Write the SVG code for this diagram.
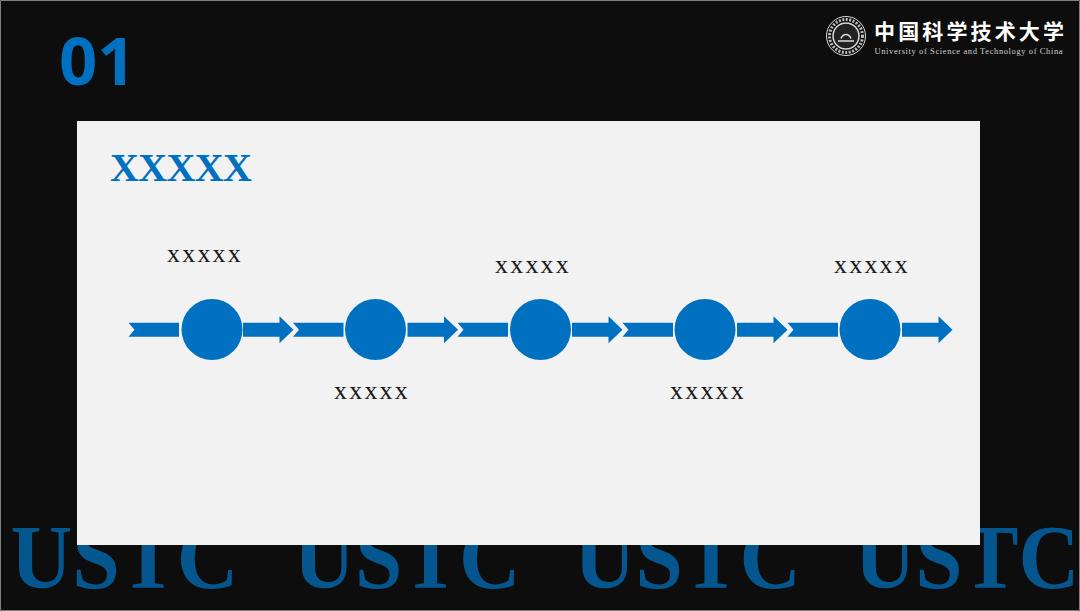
<svg xmlns="http://www.w3.org/2000/svg" width="1080" height="611" viewBox="0 0 1080 611">
<style>
.sf{font-family:"Liberation Serif","Times New Roman",serif}
.lab{font-size:26px;fill:#1a1a1a;text-anchor:middle;letter-spacing:2.2px}
.blue{fill:#0070c0}
.ustc{font-size:92px;font-weight:700;fill:#05568f;font-family:"Liberation Serif",serif}
.arrow{fill:#0070c0}
</style>
<defs>
<path id="tail" d="M0 -7 H50.500 V7 H0 L6 0 Z"/>
<path id="head" d="M0 -7 H36.500 V-13.500 L50.500 0 L36.500 13.500 V7 H0 Z"/>
</defs>
<rect width="1080" height="611" fill="#0d0d0d"/>
<path d="M0.500 0.500H1079.500V610.500H0.500Z" fill="none" stroke="#7f7f7f"/>
<g id="watermark">
<text class="ustc" x="10.500" y="588" textLength="228" lengthAdjust="spacingAndGlyphs">USTC</text>
<text class="ustc" x="293.500" y="588" textLength="227" lengthAdjust="spacingAndGlyphs">USTC</text>
<text class="ustc" x="574" y="588" textLength="227" lengthAdjust="spacingAndGlyphs">USTC</text>
<text class="ustc" x="854.500" y="588" textLength="225" lengthAdjust="spacingAndGlyphs">USTC</text>
</g>
<text id="page-number" x="59" y="85" font-family="'Open Sans','Noto Sans',sans-serif" font-weight="700" font-size="67" class="blue">01</text>
<g id="logo">
<circle cx="846" cy="36" r="19.500" fill="none" stroke="#d9d9d9" stroke-width="1"/>
<circle cx="846" cy="36" r="13" fill="#222" stroke="#d9d9d9" stroke-width="1.500"/>
<circle cx="846" cy="36" r="16.500" fill="none" stroke="#bbb" stroke-width="3" stroke-dasharray="2 1.500"/>
<path d="M838 41H854M841 38.500C843 33 849 33 851 38.500" fill="none" stroke="#ddd" stroke-width="1.500"/>
<text x="874" y="39" font-family="'Noto Sans CJK SC',sans-serif" font-weight="700" font-size="21" fill="#fff" textLength="190">中国科学技术大学</text>
<text x="874.500" y="54" class="sf" font-size="8.500" fill="#d0d0d0" textLength="188">University of Science and Technology of China</text>
</g>
<rect id="panel" x="77" y="121" width="903" height="424" fill="#f2f2f2"/>
<text id="title" x="110" y="181" class="sf blue" font-weight="700" font-size="40" textLength="142" lengthAdjust="spacing">XXXXX</text>
<g id="connectors" class="arrow">
<use href="#tail" x="128.500" y="329.700"/><use href="#head" x="243" y="329.700"/>
<use href="#tail" x="293" y="329.700"/><use href="#head" x="407.500" y="329.700"/>
<use href="#tail" x="457.500" y="329.700"/><use href="#head" x="572" y="329.700"/>
<use href="#tail" x="622.500" y="329.700"/><use href="#head" x="737" y="329.700"/>
<use href="#tail" x="787.500" y="329.700"/><use href="#head" x="902" y="329.700"/>
</g>
<g id="node1"><circle cx="212" cy="329.500" r="30.500" class="blue"/><text class="sf lab" x="205" y="262">xxxxx</text></g>
<g id="node2"><circle cx="375.500" cy="329.500" r="30.500" class="blue"/><text class="sf lab" x="372" y="399">xxxxx</text></g>
<g id="node3"><circle cx="540.500" cy="329.500" r="30.500" class="blue"/><text class="sf lab" x="533" y="273">xxxxx</text></g>
<g id="node4"><circle cx="705" cy="329.500" r="30.500" class="blue"/><text class="sf lab" x="708" y="399">xxxxx</text></g>
<g id="node5"><circle cx="870" cy="329.500" r="30.500" class="blue"/><text class="sf lab" x="872" y="273">xxxxx</text></g>
</svg>
